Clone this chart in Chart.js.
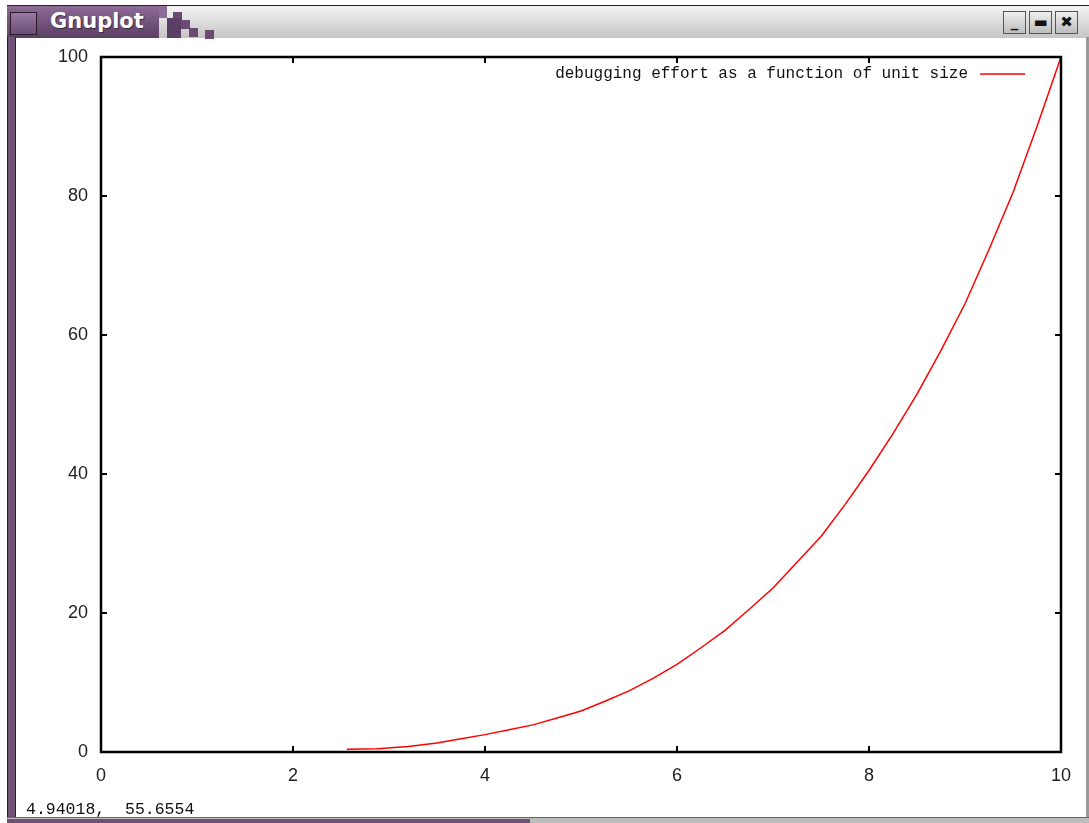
<!DOCTYPE html>
<html>
<head>
<meta charset="utf-8">
<title>Gnuplot</title>
<script src="https://cdn.jsdelivr.net/npm/chart.js@4/dist/chart.umd.min.js"></script>
<style>
    html, body { margin: 0; padding: 0; background: #fff; }
    body { width: 1089px; height: 823px; position: relative; overflow: hidden; }
    .frame { position: absolute; left: 7px; top: 5px; width: 1082px; height: 818px; background: #fff; }
    .titlebar {
        position: absolute; left: 0; top: 0; width: 1082px; height: 33px;
        background: linear-gradient(#f4f4f4, #c4c4c4);
        border-top: 1px solid #222; box-sizing: border-box;
    }
    .titlebar .purple {
        position: absolute; left: 0; top: 0; width: 152px; height: 32px;
        background: linear-gradient(#8d6c96, #5b3e63);
    }
    .titlebar .sq { position: absolute; width: 9px; height: 9px; background: #6a4a72; }
    .titlebar .icon {
        position: absolute; left: 3px; top: 6px; width: 25px; height: 21px;
        border: 1px solid #2a1c2e; background: linear-gradient(#9a7aa3, #6b4c73);
    }
    .titlebar .name {
        position: absolute; left: 43px; top: 3px; color: #fff;
        font: bold 21px "DejaVu Sans", sans-serif; text-shadow: 1px 1px 1px #3a2640;
    }
    .btn {
        position: absolute; top: 5px; width: 23px; height: 23px; box-sizing: border-box;
        border: 1px solid #555; background: linear-gradient(#efefef, #bdbdbd);
        font: bold 15px "DejaVu Sans", sans-serif; color: #111; text-align: center; line-height: 21px;
    }
    .leftborder {
        position: absolute; left: 0; top: 32px; width: 9px; height: 781px;
        background: #6f5077; border-left: 1px solid #222; border-right: 1px solid #222; box-sizing: border-box;
    }
    .rightborder { position: absolute; right: 0; top: 32px; width: 3px; height: 781px; background: #9a9a9a; }
    .bottomborder { position: absolute; left: 0; top: 812px; width: 1082px; height: 6px; background: #bdbdbd; border-top: 1px solid #666; box-sizing: border-box; }
    .bottomborder .purple { position: absolute; left: 0; top: 1px; width: 523px; height: 5px; background: #6f5077; }
    .status {
        position: absolute; left: 26px; top: 800px;
        font: 16.5px "Liberation Mono", monospace; color: #111; white-space: pre;
    }
    .chart-box { position: absolute; left: 16px; top: 38px; width: 1069px; height: 774px; }
</style>
</head>
<body>
<div class="frame">
    <div class="titlebar">
        <div class="purple"></div>
        <div class="sq" style="left:152px;top:0;width:8px;height:12px;background:#8d6c96"></div>
        <div class="sq" style="left:166px;top:6px"></div>
        <div class="sq" style="left:174px;top:14px"></div>
        <div class="sq" style="left:160px;top:12px;width:14px;height:20px;background:#5b3e63"></div>
        <div class="sq" style="left:182px;top:22px"></div>
        <div class="sq" style="left:198px;top:24px"></div>
        <div class="icon"></div>
        <div class="name">Gnuplot</div>
        <div class="btn" style="left:996px">_</div>
        <div class="btn" style="left:1022px">&#9644;</div>
        <div class="btn" style="left:1048px">&#10006;</div>
    </div>
    <div class="leftborder"></div>
    <div class="rightborder"></div>
    <div class="bottomborder"><div class="purple"></div></div>
</div>
<div class="chart-box"><canvas id="plot"></canvas></div>
<div class="status">4.94018,  55.6554</div>

<script>
    "use strict";

    // Data
    var seriesLabel = "debugging effort as a function of unit size";
    var xValues = [2.56, 2.88, 3.2, 3.5, 3.75, 4, 4.25, 4.5, 4.75, 5, 5.25, 5.5, 5.75, 6, 6.25,
                   6.5, 6.75, 7, 7.25, 7.5, 7.75, 8, 8.25, 8.5, 8.75, 9, 9.25, 9.5, 9.75, 10];
    var yValues = [0.4, 0.45, 0.8, 1.3, 1.9, 2.5, 3.2, 3.9, 4.9, 5.9, 7.3, 8.8, 10.6, 12.6, 15,
                   17.5, 20.5, 23.6, 27.3, 31, 35.6, 40.5, 45.8, 51.5, 57.8, 64.5, 72.3, 80.5, 90, 100];
    var xTicks = [0, 2, 4, 6, 8, 10];
    var yTicks = [0, 20, 40, 60, 80, 100];

    var points = xValues.map(function (x, i) {
        return { x: x, y: yValues[i] };
    });

    // Gnuplot-style border, inward mirror ticks and key
    var gnuplotFrame = {
        id: "gnuplotFrame",
        afterDraw: function (chart) {
            var ctx = chart.ctx;
            var a = chart.chartArea;
            var xs = chart.scales.x;
            var ys = chart.scales.y;
            var tick = 6;

            ctx.save();
            ctx.strokeStyle = "#000";
            ctx.lineWidth = 2;
            ctx.beginPath();
            xTicks.forEach(function (v) {
                var px = Math.round(xs.getPixelForValue(v));
                ctx.moveTo(px, a.bottom);
                ctx.lineTo(px, a.bottom - tick);
                ctx.moveTo(px, a.top);
                ctx.lineTo(px, a.top + tick);
            });
            yTicks.forEach(function (v) {
                var py = Math.round(ys.getPixelForValue(v));
                ctx.moveTo(a.left, py);
                ctx.lineTo(a.left + tick, py);
                ctx.moveTo(a.right, py);
                ctx.lineTo(a.right - tick, py);
            });
            ctx.stroke();

            ctx.lineWidth = 2.5;
            ctx.strokeRect(a.left, a.top, a.right - a.left, a.bottom - a.top);

            // key
            var ds = chart.data.datasets[0];
            var keyY = a.top + 17;
            var lineEnd = a.right - 36;
            var lineStart = lineEnd - 45;
            ctx.font = '16px "Liberation Mono", monospace';
            ctx.fillStyle = "#111";
            ctx.textAlign = "right";
            ctx.textBaseline = "middle";
            ctx.fillText(ds.label, lineStart - 12, keyY);
            ctx.strokeStyle = ds.borderColor;
            ctx.lineWidth = 1.5;
            ctx.beginPath();
            ctx.moveTo(lineStart, keyY);
            ctx.lineTo(lineEnd, keyY);
            ctx.stroke();
            ctx.restore();
        }
    };

    var ctx = document.getElementById("plot").getContext("2d");
    var myChart = new Chart(ctx, {
        type: "line",
        data: {
            datasets: [{
                label: seriesLabel,
                data: points,
                borderColor: "#ff0000",
                borderWidth: 1.5,
                pointRadius: 0,
                tension: 0,
                fill: false
            }]
        },
        options: {
            responsive: true,
            maintainAspectRatio: false,
            animation: false,
            layout: {
                padding: { top: 19, right: 24, left: 0, bottom: 0 }
            },
            plugins: {
                legend: { display: false },
                tooltip: { enabled: false }
            },
            scales: {
                x: {
                    type: "linear",
                    min: 0,
                    max: 10,
                    grid: { display: false, drawTicks: false },
                    border: { display: false },
                    afterBuildTicks: function (scale) {
                        scale.ticks = xTicks.map(function (v) { return { value: v }; });
                    },
                    afterFit: function (scale) { scale.height = 60; },
                    ticks: {
                        padding: 13,
                        maxRotation: 0,
                        color: "#222",
                        font: { family: "Liberation Sans", size: 18 }
                    }
                },
                y: {
                    type: "linear",
                    min: 0,
                    max: 100,
                    grid: { display: false, drawTicks: false },
                    border: { display: false },
                    afterBuildTicks: function (scale) {
                        scale.ticks = yTicks.map(function (v) { return { value: v }; });
                    },
                    afterFit: function (scale) {
                        scale.width = 85;
                        // the label padding would otherwise be added above the top tick
                        scale.paddingTop = 0;
                        scale.paddingBottom = 0;
                    },
                    ticks: {
                        padding: 13,
                        color: "#222",
                        font: { family: "Liberation Sans", size: 18 }
                    }
                }
            }
        },
        plugins: [gnuplotFrame]
    });
</script>
</body>
</html>
